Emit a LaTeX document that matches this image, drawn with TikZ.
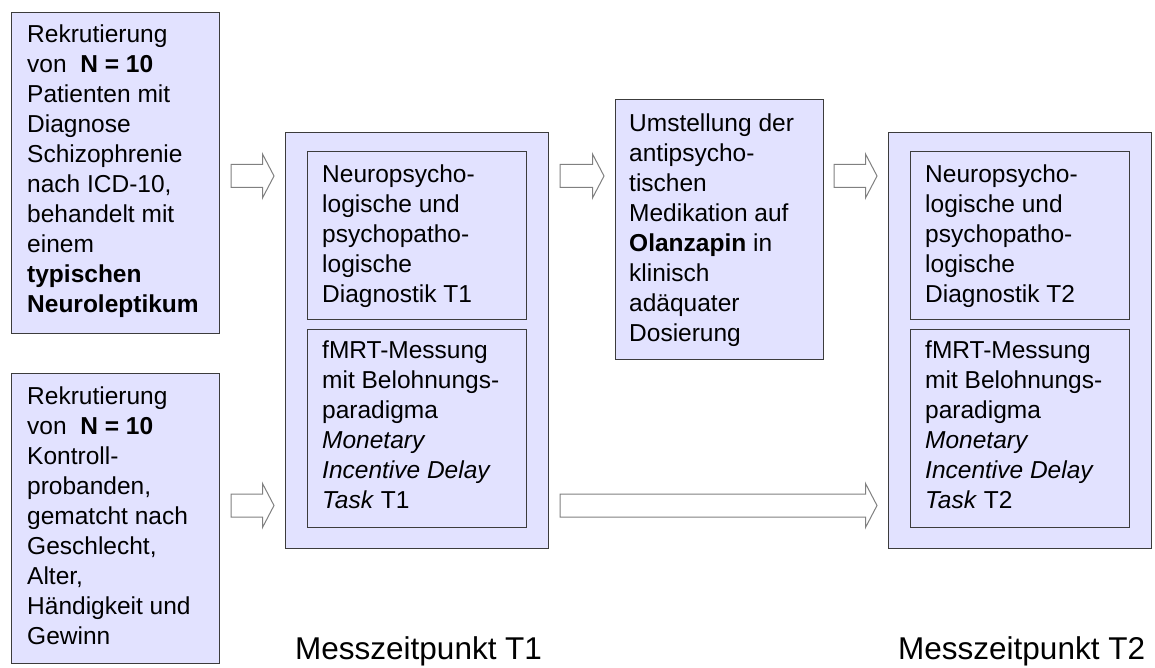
\documentclass[tikz,border=0pt]{standalone}
\usepackage{fontspec}
\setmainfont{Liberation Sans}
\usetikzlibrary{calc}
\definecolor{boxfill}{RGB}{226,226,255}
\definecolor{boxline}{RGB}{60,60,60}
\definecolor{arrline}{RGB}{128,128,128}
\tikzset{
  box/.style={draw=boxline, fill=boxfill, line width=1pt, rectangle, anchor=north west, inner sep=0pt},
  txt/.style={anchor=north west, inner sep=0pt, align=left, font=\fontsize{24.5}{30}\selectfont},
  lbl/.style={anchor=base west, inner sep=0pt, font=\fontsize{31.5}{36}\selectfont},
  barrow/.style={draw=arrline, fill=white, line width=1pt, line join=miter},
}
\newcommand\blockarr[2]{%
  \draw[barrow] let \p1=(#1), \p2=(#2) in
    (\x1,\y1+11.5pt) -- (\x2-11.5pt,\y1+11.5pt) -- (\x2-11.5pt,\y1+22pt) -- (\x2,\y1)
    -- (\x2-11.5pt,\y1-22pt) -- (\x2-11.5pt,\y1-11.5pt) -- (\x1,\y1-11.5pt) -- cycle;}
\begin{document}
\begin{tikzpicture}[x=1pt,y=-1pt]
\useasboundingbox (0,0) rectangle (1155,668);
% boxes
\node[box, minimum width=208pt, minimum height=321pt] (A) at (11,12) {};
\node[box, minimum width=208pt, minimum height=290pt] (B) at (11,373) {};
\node[box, minimum width=263pt, minimum height=416pt] (T1) at (285,132) {};
\node[box, minimum width=219pt, minimum height=168pt] (T1a) at (307,151) {};
\node[box, minimum width=219pt, minimum height=198pt] (T1b) at (307,329) {};
\node[box, minimum width=208pt, minimum height=260pt] (O) at (615,99) {};
\node[box, minimum width=263pt, minimum height=416pt] (T2) at (888,132) {};
\node[box, minimum width=219pt, minimum height=168pt] (T2a) at (910,151) {};
\node[box, minimum width=219pt, minimum height=198pt] (T2b) at (910,329) {};
% texts
\node[txt] (tA) at (27,25) {Rekrutierung\\von \ \textbf{N = 10}\\Patienten mit\\Diagnose\\Schizophrenie\\nach ICD-10,\\behandelt mit\\einem\\\textbf{typischen}\\\textbf{Neuroleptikum}};
\node[txt] (tB) at (27,387) {Rekrutierung\\von \ \textbf{N = 10}\\Kontroll-\\probanden,\\gematcht nach\\Geschlecht,\\Alter,\\Händigkeit und\\Gewinn};
\node[txt] (tT1a) at (322,165) {Neuropsycho-\\logische und\\psychopatho-\\logische\\Diagnostik T1};
\node[txt] (tT1b) at (322,341) {fMRT-Messung\\mit Belohnungs-\\paradigma\\\textit{Monetary}\\\textit{Incentive Delay}\\\textit{Task} T1};
\node[txt] (tO) at (629,114) {Umstellung der\\antipsycho-\\tischen\\Medikation auf\\\textbf{Olanzapin} in\\klinisch\\adäquater\\Dosierung};
\node[txt] (tT2a) at (925,165) {Neuropsycho-\\logische und\\psychopatho-\\logische\\Diagnostik T2};
\node[txt] (tT2b) at (925,341) {fMRT-Messung\\mit Belohnungs-\\paradigma\\\textit{Monetary}\\\textit{Incentive Delay}\\\textit{Task} T2};
% labels
\node[lbl] (L1) at (295,659) {Messzeitpunkt T1};
\node[lbl] (L2) at (898,659) {Messzeitpunkt T2};
% arrows
\coordinate (row1) at (0,176);
\coordinate (row2) at (0,505.5);
\blockarr{$(A.east|-row1)+(11,0)$}{$(T1.west|-row1)+(-11,0)$}
\blockarr{$(B.east|-row2)+(11,0)$}{$(T1.west|-row2)+(-11,0)$}
\blockarr{$(T1.east|-row1)+(11,0)$}{$(O.west|-row1)+(-11,0)$}
\blockarr{$(O.east|-row1)+(10,0)$}{$(T2.west|-row1)+(-11,0)$}
\blockarr{$(T1.east|-row2)+(11,0)$}{$(T2.west|-row2)+(-11,0)$}
\end{tikzpicture}
\end{document}
